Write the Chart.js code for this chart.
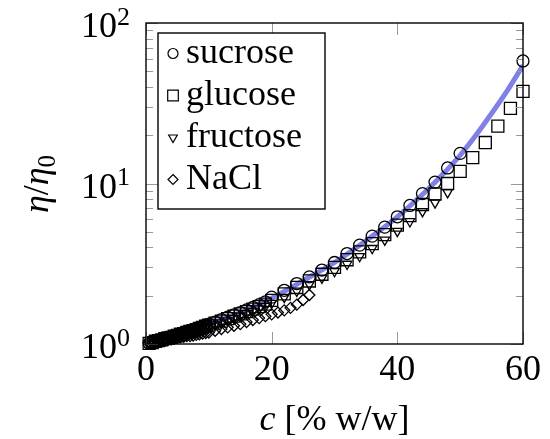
<!DOCTYPE html>
<html>
<head>
<meta charset="utf-8">
<script src="https://cdn.jsdelivr.net/npm/chart.js@4.4.0/dist/chart.umd.min.js"></script>
<style>
  body { margin: 0; background: #fff; }
  #wrap { width: 550px; height: 439px; }
</style>
</head>
<body>
<div id="wrap"><canvas id="viscChart" width="550" height="439"></canvas></div>
<script>
// Data (relative viscosity eta/eta0 vs mass fraction c)
const sucroseC = [0.5, 1, 1.5, 2, 2.5, 3, 3.5, 4, 4.5, 5, 5.5, 6, 6.5, 7, 7.5, 8, 8.5, 9, 9.5, 10,
    11, 12, 13, 14, 15, 16, 17, 18, 19, 20,
    22, 24, 26, 28, 30, 32, 34, 36, 38, 40, 42, 44, 46, 48, 50, 60];
const sucroseEta = [1.01, 1.03, 1.04, 1.05, 1.07, 1.08, 1.10, 1.11, 1.13, 1.14, 1.16, 1.18, 1.20, 1.21, 1.23, 1.25, 1.27, 1.29, 1.31, 1.33,
    1.37, 1.42, 1.47, 1.52, 1.57, 1.63, 1.69, 1.76, 1.83, 1.96,
    2.16, 2.38, 2.62, 2.89, 3.22, 3.66, 4.13, 4.70, 5.35, 6.20, 7.30, 8.65, 10.2, 12.5, 15.4, 58.0];

const glucoseC = [0.5, 1, 1.5, 2, 2.5, 3, 3.5, 4, 4.5, 5, 5.5, 6, 6.5, 7, 7.5, 8, 8.5, 9, 9.5, 10,
    11, 12, 13, 14, 15, 16, 17, 18, 19, 20,
    22, 24, 26, 28, 30, 32, 34, 36, 38, 40, 42, 44, 46, 48, 50, 52, 54, 56, 58, 60];
const glucoseEta = [1.01, 1.02, 1.04, 1.05, 1.06, 1.08, 1.09, 1.10, 1.12, 1.13, 1.15, 1.16, 1.18, 1.20, 1.21, 1.23, 1.25, 1.27, 1.29, 1.31,
    1.35, 1.39, 1.44, 1.49, 1.54, 1.59, 1.65, 1.71, 1.77, 1.87,
    2.05, 2.25, 2.47, 2.72, 3.00, 3.35, 3.75, 4.22, 4.80, 5.50, 6.30, 7.40, 8.60, 10.0, 11.9, 14.5, 18.0, 22.8, 29.4, 37.5];

const fructoseC = [0.5, 1, 1.5, 2, 2.5, 3, 3.5, 4, 4.5, 5, 5.5, 6, 6.5, 7, 7.5, 8, 8.5, 9, 9.5, 10,
    11, 12, 13, 14, 15, 16, 17, 18, 19, 20,
    22, 24, 26, 28, 30, 32, 34, 36, 38, 40, 42, 44, 46, 48];
const fructoseEta = [1.01, 1.02, 1.03, 1.05, 1.06, 1.07, 1.09, 1.10, 1.11, 1.13, 1.14, 1.16, 1.17, 1.19, 1.20, 1.22, 1.24, 1.25, 1.27, 1.29,
    1.32, 1.36, 1.40, 1.45, 1.50, 1.55, 1.60, 1.66, 1.72, 1.80,
    1.96, 2.14, 2.35, 2.58, 2.84, 3.15, 3.52, 3.95, 4.45, 5.05, 5.80, 6.70, 7.60, 8.80];

const naclC = [0.5, 1, 1.5, 2, 2.5, 3, 3.5, 4, 4.5, 5, 5.5, 6, 6.5, 7, 7.5, 8, 8.5, 9, 9.5, 10,
    11, 12, 13, 14, 15, 16, 17, 18, 19, 20, 21, 22, 23, 24, 25, 26];
const naclEta = [1.01, 1.02, 1.03, 1.04, 1.04, 1.05, 1.06, 1.07, 1.08, 1.09, 1.10, 1.11, 1.12, 1.12, 1.13, 1.14, 1.15, 1.16, 1.17, 1.18,
    1.21, 1.24, 1.27, 1.30, 1.33, 1.37, 1.41, 1.45, 1.49, 1.53, 1.57, 1.62, 1.68, 1.76, 1.88, 2.02];

// fitted curve through the sucrose data
const fitC = [0, 5, 10, 15, 20, 25, 30, 35, 40, 45, 47.5, 50, 52.5, 55, 57.5, 60];
const fitEta = [1.0, 1.14, 1.33, 1.57, 1.93, 2.48, 3.22, 4.40, 6.20, 9.30, 11.7, 15.0, 20.0, 27.3, 37.9, 54.5];

const xTicks = [0, 20, 40, 60];
const yTicks = [1, 10, 100];
const yTickExp = ['0', '1', '2'];
const yMinorTicks = [2, 3, 4, 5, 6, 7, 8, 9, 20, 30, 40, 50, 60, 70, 80, 90];

const serif = '"Liberation Serif", "Times New Roman", serif';

function toPoints(xs, ys) {
    return xs.map((x, i) => ({ x: x, y: ys[i] }));
}

function markerSet(label, xs, ys, style, radius, rotation) {
    return {
        label: label,
        data: toPoints(xs, ys),
        showLine: false,
        pointStyle: style,
        pointRadius: radius,
        pointRotation: rotation || 0,
        pointBorderWidth: 1.3,
        pointBorderColor: '#000',
        pointBackgroundColor: 'rgba(0,0,0,0)',
        clip: false,
        order: 1
    };
}

// draw a legend marker the same way as on the plot
function legendMarker(ctx, style, x, y, r) {
    ctx.beginPath();
    if (style === 'circle') {
        ctx.arc(x, y, r, 0, Math.PI * 2);
    } else if (style === 'rect') {
        const h = r * Math.SQRT1_2;
        ctx.rect(x - h, y - h, 2 * h, 2 * h);
    } else if (style === 'triangle') {
        ctx.moveTo(x - r * 0.866, y - r * 0.5);
        ctx.lineTo(x + r * 0.866, y - r * 0.5);
        ctx.lineTo(x, y + r);
        ctx.closePath();
    } else {
        ctx.moveTo(x, y - r);
        ctx.lineTo(x + r, y);
        ctx.lineTo(x, y + r);
        ctx.lineTo(x - r, y);
        ctx.closePath();
    }
    ctx.stroke();
}

function drawPieces(ctx, pieces, x, y) {
    let cx = x;
    pieces.forEach(p => {
        ctx.font = p.font;
        ctx.fillText(p.text, cx, y + (p.dy || 0));
        cx += ctx.measureText(p.text).width;
    });
}

function piecesWidth(ctx, pieces) {
    let w = 0;
    pieces.forEach(p => { ctx.font = p.font; w += ctx.measureText(p.text).width; });
    return w;
}

const framePlugin = {
    id: 'frame',
    afterDraw(chart) {
        const ctx = chart.ctx;
        const area = chart.chartArea;
        const xs = chart.scales.x;
        const ys = chart.scales.y;
        ctx.save();

        // inward ticks on all four sides
        ctx.strokeStyle = '#999';
        ctx.lineWidth = 1;
        ctx.beginPath();
        xTicks.forEach(v => {
            const px = Math.round(xs.getPixelForValue(v)) + 0.5;
            ctx.moveTo(px, area.bottom); ctx.lineTo(px, area.bottom - 12);
            ctx.moveTo(px, area.top); ctx.lineTo(px, area.top + 12);
        });
        yTicks.forEach(v => {
            const py = Math.round(ys.getPixelForValue(v)) + 0.5;
            ctx.moveTo(area.left, py); ctx.lineTo(area.left + 12, py);
            ctx.moveTo(area.right, py); ctx.lineTo(area.right - 12, py);
        });
        yMinorTicks.forEach(v => {
            const py = Math.round(ys.getPixelForValue(v)) + 0.5;
            ctx.moveTo(area.left, py); ctx.lineTo(area.left + 7, py);
            ctx.moveTo(area.right, py); ctx.lineTo(area.right - 7, py);
        });
        ctx.stroke();

        // axis box
        ctx.strokeStyle = '#000';
        ctx.lineWidth = 1.4;
        ctx.strokeRect(area.left, area.top, area.right - area.left, area.bottom - area.top);

        // y tick labels 10^k
        ctx.fillStyle = '#000';
        yTicks.forEach((v, i) => {
            const py = ys.getPixelForValue(v);
            ctx.font = '36px ' + serif;
            ctx.textAlign = 'right';
            ctx.textBaseline = 'alphabetic';
            ctx.fillText('10', 117, py + 14);
            ctx.font = '26px ' + serif;
            ctx.textAlign = 'left';
            ctx.fillText(yTickExp[i], 117, py + 1.5);
        });

        // axis titles
        ctx.textAlign = 'left';
        const xTitle = [
            { text: 'c', font: 'italic 36px ' + serif },
            { text: ' [% w/w]', font: '36px ' + serif }
        ];
        const xMid = (area.left + area.right) / 2;
        drawPieces(ctx, xTitle, xMid - piecesWidth(ctx, xTitle) / 2, 430);

        const yTitle = [
            { text: 'η', font: 'italic 36px ' + serif },
            { text: '/', font: '36px ' + serif },
            { text: 'η', font: 'italic 36px ' + serif },
            { text: '0', font: '25px ' + serif, dy: 7 }
        ];
        ctx.save();
        ctx.translate(48, 184);
        ctx.rotate(-Math.PI / 2);
        drawPieces(ctx, yTitle, -piecesWidth(ctx, yTitle) / 2, 0);
        ctx.restore();

        // legend box inside the plot
        const lx = 158, ly = 33, lw = 167, lh = 176;
        ctx.fillStyle = '#fff';
        ctx.fillRect(lx, ly, lw, lh);
        ctx.strokeStyle = '#000';
        ctx.lineWidth = 1.4;
        ctx.strokeRect(lx, ly, lw, lh);
        const entries = chart.data.datasets.filter(ds => !ds.showLine);
        entries.forEach((ds, i) => {
            const my = 53.5 + i * 42;
            ctx.strokeStyle = '#000';
            ctx.lineWidth = 1.2;
            legendMarker(ctx, ds.pointStyle, 173, my, ds.pointStyle === 'rect' ? 7.5 : 5);
            ctx.fillStyle = '#000';
            ctx.font = '36px ' + serif;
            ctx.textAlign = 'left';
            ctx.fillText(ds.label, 186, my + 9);
        });
        ctx.restore();
    }
};

const ctx = document.getElementById('viscChart').getContext('2d');

const viscChart = new Chart(ctx, {
    type: 'scatter',
    data: {
        datasets: [
            markerSet('sucrose', sucroseC, sucroseEta, 'circle', 6),
            markerSet('glucose', glucoseC, glucoseEta, 'rect', 8.5),
            markerSet('fructose', fructoseC, fructoseEta, 'triangle', 5.5, 180),
            markerSet('NaCl', naclC, naclEta, 'rectRot', 5.5),
            {
                label: 'fit',
                data: toPoints(fitC, fitEta),
                showLine: true,
                borderColor: '#8080e6',
                borderWidth: 5,
                pointRadius: 0,
                cubicInterpolationMode: 'monotone',
                order: 5
            }
        ]
    },
    options: {
        responsive: false,
        animation: false,
        devicePixelRatio: 1,
        layout: { padding: { top: 23, right: 27, left: 0, bottom: 0 } },
        plugins: {
            legend: { display: false },
            tooltip: { enabled: false }
        },
        scales: {
            x: {
                type: 'linear',
                min: 0,
                max: 60,
                afterFit: function(scale) { scale.height = 95; },
                afterBuildTicks: function(scale) {
                    scale.ticks = xTicks.map(v => ({ value: v }));
                },
                grid: { display: false, drawTicks: false },
                border: { display: false },
                ticks: {
                    color: '#000',
                    padding: 5,
                    maxRotation: 0,
                    font: { family: serif, size: 36 }
                }
            },
            y: {
                type: 'logarithmic',
                min: 1,
                max: 100,
                afterFit: function(scale) { scale.width = 146; },
                grid: { display: false, drawTicks: false },
                border: { display: false },
                ticks: { display: false }
            }
        }
    },
    plugins: [framePlugin]
});
</script>
</body>
</html>
